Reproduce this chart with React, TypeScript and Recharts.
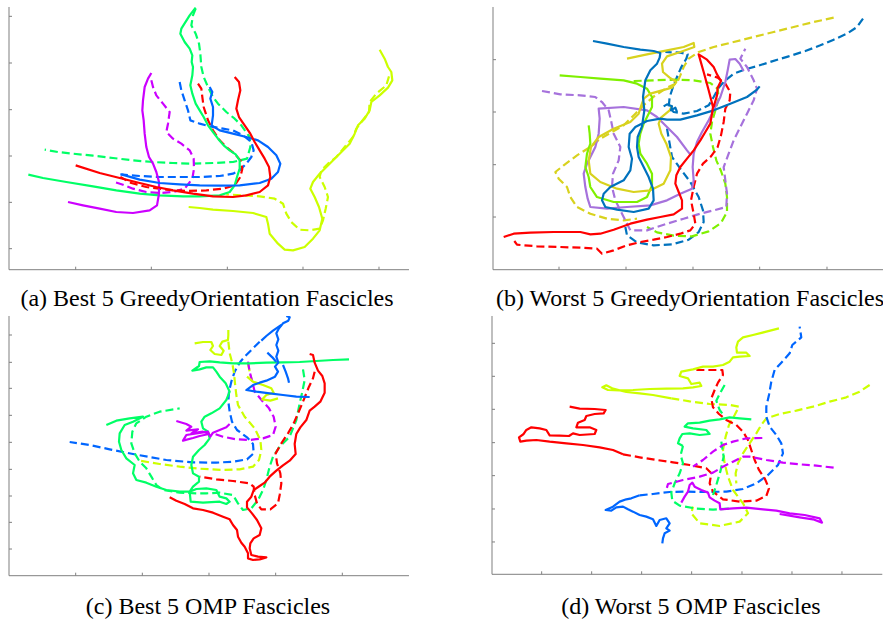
import React from 'react';
import { LineChart, Line, XAxis, YAxis } from 'recharts';

// Digitized trajectories. Units are the panel's own (unlabelled) coordinates;
// the y axis runs top-down (reversed).
type Pt = [number, number];

// ---- (a) Best 5 GreedyOrientation ----
const aGreenSolid: Pt[] = [[588,22],[570,45],[545,85],[542,100],[555,125],[570,145],[578,165],[576,185],[580,200],[578,225],[572,255],[578,280],[588,310],[600,330],[612,350],[625,375],[640,395],[655,415],[672,435],[690,450],[708,462],[720,480],[720,505],[712,530],[705,555],[690,575],[660,585],[600,588],[550,588],[480,585],[420,580],[350,570],[280,558],[200,545],[130,533],[86,523]];
const aGreenDash: Pt[] = [[588,25],[580,45],[575,75],[588,100],[598,130],[602,160],[605,200],[612,230],[625,260],[640,290],[655,310],[680,335],[705,355],[725,375],[750,410],[752,440],[742,475],[700,485],[640,488],[580,490],[520,488],[460,485],[400,480],[340,473],[280,466],[220,460],[175,455],[135,448]];
const aRedSolid: Pt[] = [[705,230],[718,245],[722,270],[715,300],[710,325],[718,350],[735,375],[752,400],[765,425],[780,450],[795,475],[808,500],[812,530],[805,555],[780,575],[740,585],[700,590],[640,588],[580,580],[520,570],[470,560],[420,548],[360,533],[300,518],[228,495]];
const aRedDash: Pt[] = [[595,250],[605,265],[608,290],[612,320],[625,360],[640,390],[660,420],[680,440],[705,460],[722,480],[728,505],[722,530],[705,555],[670,565],[620,570],[560,572],[500,568],[440,560],[395,548],[362,530]];
const aBlueSolid: Pt[] = [[630,260],[638,275],[632,295],[640,320],[640,345],[636,375],[660,390],[700,400],[740,410],[775,420],[805,440],[830,465],[842,490],[835,515],[815,535],[780,548],[720,555],[660,556],[600,555],[540,552],[480,548],[420,538],[365,522]];
const aBlueDash: Pt[] = [[540,245],[545,270],[555,300],[565,330],[572,360],[600,370],[630,378],[670,385],[700,390],[730,405],[755,425],[762,450],[755,470],[740,490],[720,510],[700,520],[660,527],[600,530],[540,530],[480,530],[420,527],[362,522]];
const aMagSolid: Pt[] = [[455,218],[445,235],[435,260],[430,300],[428,330],[432,360],[435,400],[440,440],[448,470],[460,490],[470,515],[478,545],[478,580],[472,615],[450,630],[400,638],[350,635],[300,625],[250,615],[205,605]];
const aMagDash: Pt[] = [[455,240],[460,260],[470,285],[490,310],[510,335],[505,370],[500,395],[520,415],[545,430],[570,450],[582,475],[583,505],[578,535],[555,565],[520,575],[480,578],[440,575],[400,565],[370,553],[338,543]];
const aYgSolid: Pt[] = [[1140,148],[1155,175],[1165,200],[1175,215],[1178,240],[1165,262],[1140,285],[1115,305],[1110,330],[1095,355],[1075,375],[1065,400],[1050,430],[1020,460],[990,490],[960,520],[940,545],[932,565],[945,590],[958,620],[968,655],[960,690],[940,715],[915,740],[880,750],[855,748],[835,730],[810,700],[805,670],[800,650],[760,638],[700,632],[640,628],[600,623],[567,620]];
const aYgDash: Pt[] = [[1168,228],[1160,255],[1130,280],[1110,305],[1108,335],[1085,365],[1070,385],[1060,410],[1035,440],[1010,470],[985,490],[965,510],[960,530],[975,560],[985,590],[978,625],[970,660],[960,685],[930,690],[900,688],[875,665],[860,640],[850,610],[825,595],[780,588],[730,585],[680,582]];

// ---- (b) Worst 5 GreedyOrientation ----
const bBlueSolid: Pt[] = [[338,122],[380,130],[430,140],[480,148],[520,152],[540,158],[538,172],[530,190],[510,210],[495,240],[488,290],[492,330],[485,378],[472,410],[470,440],[475,470],[490,500],[505,530],[518,565],[520,600],[505,625],[460,635],[410,628],[375,620],[365,600],[370,580],[390,560],[430,540],[450,510],[455,475],[445,440],[448,400],[465,380],[500,362],[540,355],[560,358],[600,358],[650,345],[700,330],[750,310],[800,290],[830,268],[838,258]];
const bBlueSquig: Pt[] = [[550,318],[560,312],[575,318],[572,330],[585,322],[590,335]];
const bBlueDash: Pt[] = [[1148,55],[1130,80],[1100,100],[1060,118],[1020,135],[975,152],[925,168],[875,183],[835,196],[795,207],[760,220],[735,240],[715,262],[700,290],[685,315],[650,332],[610,340],[580,335],[565,320],[568,290],[578,260],[590,230],[603,200],[618,175],[622,162],[600,157],[555,155]];
const bBlueDash2: Pt[] = [[560,385],[568,430],[575,470],[600,505],[630,545],[655,590],[668,630],[670,665],[655,695],[625,718],[575,732],[520,735],[470,726],[440,705],[435,680]];
const bYelSolid: Pt[] = [[440,175],[500,162],[560,150],[610,140],[640,128],[642,140],[600,155],[560,168],[545,190],[548,215],[568,232],[588,245],[575,262],[545,270],[510,280],[490,295],[482,318],[475,340],[450,365],[400,385],[355,410],[332,440],[325,480],[330,520],[360,545],[410,565],[460,575],[510,570],[550,550],[570,510],[572,470],[558,430],[543,400],[535,370],[542,352],[568,330],[575,315]];
const bYelDash: Pt[] = [[1060,52],[1000,65],[940,80],[880,95],[820,110],[760,125],[700,140],[655,155],[625,175],[610,200],[600,225],[590,248],[560,262],[525,285],[495,310],[465,340],[430,375],[395,395],[360,415],[330,440],[290,465],[250,495],[225,515],[235,535],[260,560],[270,590],[290,620],[330,640],[380,655],[430,660],[470,655]];
const bLimeSolid: Pt[] = [[238,225],[300,230],[360,235],[430,240],[470,250],[500,265],[515,290],[515,320],[505,340],[490,370],[480,400],[475,430],[480,460],[500,490],[515,520],[515,555],[500,590],[470,605],[400,605],[350,590],[330,560],[325,530],[315,500],[320,460],[330,430],[328,400],[325,375]];
const bLimeDash: Pt[] = [[460,242],[520,240],[580,238],[640,240],[690,248],[712,265],[715,295],[705,330],[695,365],[690,400],[698,440],[708,480],[722,512],[735,550],[740,590],[740,635],[722,668],[685,693],[635,708],[580,706],[530,696],[500,680]];
const bPurSolid: Pt[] = [[790,212],[778,190],[765,176],[748,178],[742,210],[735,245],[720,290],[700,330],[685,360],[665,395],[650,425],[640,460],[637,500],[640,540],[635,565],[600,580],[560,600],[510,615],[440,620],[380,625],[330,620],[322,595],[315,560],[310,520],[320,490],[345,440],[355,400],[358,355],[355,325],[430,320],[500,330],[530,350],[560,380],[590,410],[620,450],[632,465]];
const bPurDash: Pt[] = [[185,272],[240,282],[300,285],[345,290],[365,305],[385,330],[392,360],[400,400],[420,440],[415,480],[398,520],[395,560],[405,600],[425,640],[450,690],[500,690],[560,670],[610,655],[660,640],[700,630],[738,620],[740,580],[735,540],[730,500],[745,460],[760,420],[780,380],[800,340],[820,300],[830,265],[820,240],[800,200],[780,175],[795,145]];
const bRedSolid: Pt[] = [[70,710],[100,700],[150,697],[220,695],[300,695],[330,702],[360,700],[400,688],[450,670],[500,658],[540,650],[580,642],[605,625],[605,600],[595,575],[585,550],[588,525],[600,500],[620,475],[640,450],[660,420],[675,395],[690,370],[695,340],[698,320],[685,270],[670,215],[655,162],[680,178],[700,200],[710,222],[722,242],[712,262],[710,285],[700,320]];
const bRedDash: Pt[] = [[102,722],[110,733],[170,738],[240,740],[300,742],[350,745],[365,760],[400,750],[440,735],[480,725],[520,718],[560,710],[600,700],[630,690],[645,670],[640,640],[632,600],[640,560],[650,520],[668,490],[692,468],[712,440],[722,405],[730,365],[735,325],[748,300],[750,275],[735,250],[712,232],[680,222]];

// ---- (c) Best 5 OMP ----
const cBlueSolid: Pt[] = [[860,18],[870,22],[866,32],[850,40],[838,55],[830,70],[836,88],[830,105],[836,122],[830,140],[836,158],[826,170],[835,185],[826,200],[800,212],[780,218],[760,225],[740,240],[770,245],[810,250],[850,255],[890,260],[930,261]];
const cBlueSolid2: Pt[] = [[845,45],[820,62],[800,78],[785,92]];
const cBlueBits1: Pt[] = [[803,128],[818,142],[830,156]];
const cBlueBits2: Pt[] = [[850,165],[858,185],[865,205],[868,218]];
const cBlueDash: Pt[] = [[780,95],[760,115],[740,135],[722,155],[705,185],[695,215],[688,245],[686,275],[690,305],[697,335],[712,360],[742,382],[760,402],[762,430],[742,448],[700,455],[650,458],[580,457],[500,450],[400,432],[330,418],[270,405],[210,396]];
const cYgSolid: Pt[] = [[585,100],[610,96],[635,96],[640,108],[632,120],[645,132],[665,135],[672,122],[660,108],[668,95],[685,90],[686,75],[686,60]];
const cYgSolid2: Pt[] = [[742,200],[760,215],[790,225],[815,235],[822,248],[800,255],[788,268],[812,272],[835,265]];
const cYgDash: Pt[] = [[686,95],[690,130],[698,160],[703,190],[706,220],[710,255],[715,285],[735,320],[765,355],[782,390],[785,420],[778,450],[760,470],[720,478],[670,480],[600,476],[540,470],[480,462],[420,452]];
const cYgDash2: Pt[] = [[745,160],[750,185],[756,210]];
const cGreenSolid: Pt[] = [[1048,148],[1000,150],[950,153],[900,156],[850,157],[800,158],[750,160],[700,160],[660,157],[630,154],[600,156],[598,168],[578,182],[600,178],[620,172],[640,172],[650,185],[660,200],[678,220],[690,245],[680,270],[660,295],[635,310],[615,320],[605,335],[610,355],[625,365],[630,385],[615,405],[598,420],[580,440],[575,465],[580,490],[598,500],[598,515],[580,530],[570,545],[573,575],[610,578],[660,575],[680,582],[690,575],[680,565],[660,560],[650,540],[620,535],[590,537],[570,545],[540,545],[500,540],[470,530],[440,518],[410,510],[400,490],[405,465],[380,445],[365,420],[358,395],[360,370],[375,345],[400,335],[430,320],[390,325],[350,332],[320,345]];
const cGreenDash: Pt[] = [[910,178],[915,210],[908,245],[900,280],[890,330],[870,380],[840,410],[820,440],[810,470],[800,510],[790,540],[775,570],[755,595],[730,600],[715,580],[700,555],[660,548],[620,550],[590,550],[540,548],[490,540],[470,525],[455,500],[440,475],[420,455],[405,430],[395,400],[398,365],[410,340],[440,320],[480,305],[540,295]];
const cRedSolid: Pt[] = [[510,562],[530,572],[555,582],[580,595],[610,600],[640,608],[670,620],[690,628],[700,645],[712,660],[715,680],[725,698],[735,710],[745,730],[745,745],[760,750],[780,748],[800,742],[775,740],[755,735],[750,715],[752,700],[762,685],[780,675],[785,655],[772,630],[757,610],[742,592],[742,575],[755,560],[762,540],[780,528],[795,518],[810,500],[830,482],[850,466],[870,452],[888,432],[885,402],[890,372],[902,352],[920,330],[930,302],[945,290],[962,275],[975,248],[975,220],[968,198],[955,182],[945,158],[940,135],[930,132]];
const cRedDash: Pt[] = [[945,185],[940,205],[928,230],[918,255],[908,280],[895,310],[882,340],[865,370],[845,400],[828,430],[832,460],[842,490],[845,520],[840,555],[835,580],[812,598],[785,598],[772,580],[765,555],[762,530],[750,520],[700,513],[650,508],[600,500]];
const cMagSolid: Pt[] = [[530,333],[560,342],[575,350],[560,362],[595,358],[575,370],[610,365],[628,372],[600,378],[580,384],[550,392],[560,375],[590,370],[625,365],[632,380],[640,368],[660,360],[680,352],[690,342]];
const cMagDash: Pt[] = [[745,155],[750,185],[758,215],[765,245],[790,275],[808,295],[822,320],[828,350],[820,375],[790,385],[750,390],[710,388],[670,380],[640,370]];

// ---- (d) Worst 5 OMP ----
const dYgSolid: Pt[] = [[898,55],[860,65],[820,75],[790,82],[775,95],[770,112],[772,128],[800,128],[810,138],[780,140],[760,142],[750,155],[730,165],[700,170],[670,170],[640,178],[605,185],[600,198],[625,205],[635,222],[660,218],[665,228],[640,232],[610,235],[560,236],[510,237],[460,240],[420,241],[385,240],[368,232],[380,226],[400,236],[440,246],[480,250],[520,255],[575,265]];
const dYgDash: Pt[] = [[575,265],[630,274],[690,282],[750,285],[778,290],[765,315],[748,345],[738,380],[730,420],[735,460],[745,500],[760,540],[790,580],[805,610],[780,635],[720,648],[660,640],[635,610],[640,590]];
const dYgDash2: Pt[] = [[1170,225],[1140,245],[1100,262],[1050,275],[1000,290],[950,302],[900,312],[860,325],[845,345],[830,370],[810,400],[790,430],[775,460],[768,490],[770,520]];
const dRedSolid: Pt[] = [[270,290],[300,296],[345,297],[378,300],[372,310],[345,312],[320,318],[315,330],[295,338],[290,352],[330,352],[350,360],[345,372],[300,375],[280,370],[268,378],[240,377],[210,376],[200,360],[180,355],[155,352],[140,360],[132,372],[118,382],[122,395],[140,392],[170,390],[210,395],[260,400],[310,405],[360,412],[400,420],[430,433]];
const dRedDash: Pt[] = [[430,433],[480,442],[530,450],[580,457],[630,465],[680,475],[695,490],[690,520],[700,545],[730,568],[780,575],[830,572],[860,558],[868,535],[855,505],[838,480],[825,450],[815,420],[805,390],[790,365],[770,345],[740,330],[718,312],[700,292],[695,265],[705,240],[715,218],[730,195],[728,180],[690,180],[640,180]];
const dGreenSolid: Pt[] = [[815,328],[780,325],[750,322],[720,328],[690,332],[660,338],[625,340],[615,350],[640,355],[680,360],[690,372],[660,375],[630,370],[608,372],[600,385],[595,400],[610,408]];
const dGreenDash: Pt[] = [[610,408],[603,435],[610,460],[600,490],[585,520],[575,548],[578,572],[600,587],[650,596],[700,599],[750,596]];
const dGreenDash2: Pt[] = [[735,225],[722,248],[710,272],[720,300],[735,320]];
const dGreenDash3: Pt[] = [[725,395],[732,440],[722,485],[710,525],[700,555]];
const dBlueSolid: Pt[] = [[480,556],[455,565],[440,568],[420,575],[400,590],[378,600],[395,602],[410,592],[430,590],[445,598],[460,605],[480,615],[500,620],[520,628],[530,648],[540,630],[560,625],[570,640],[560,655],[570,662],[555,670],[550,685],[548,700]];
const dBlueDash: Pt[] = [[480,556],[520,552],[570,546],[620,545],[680,546],[740,545],[790,537],[830,520],[865,495],[895,465],[910,430],[905,400],[890,375],[870,350],[860,320],[860,290],[868,255],[875,215],[885,180],[905,158],[930,130],[938,105],[965,82],[960,50]];
const dMagSolid: Pt[] = [[605,578],[615,560],[625,545],[630,525],[638,518],[645,530],[665,540],[685,548],[690,562],[705,572],[720,580],[722,598],[760,595],[800,593],[850,598],[890,602],[930,610],[975,615],[1020,625],[1027,638],[1000,628],[960,622],[900,612]];
const dMagDash: Pt[] = [[1062,473],[1010,467],[960,463],[910,458],[860,450],[810,440],[790,440],[760,455],[730,470],[700,488],[660,500],[610,510],[565,522],[560,540]];
const dMagDash2: Pt[] = [[848,384],[800,385],[760,395],[730,405],[700,425],[670,450],[640,470]];

// axis ticks (no labels in the figure)
const aXTicks = [228, 455, 683, 910, 1138];
const aYTicks = [48, 188, 328, 467, 606, 745];
const bXTicks = [236, 437, 638, 838, 1040];
const bYTicks = [178, 335, 493, 650];
const cXTicks = [228, 428, 628, 828, 1028];
const cYTicks = [75, 157, 235, 316, 397, 478, 558, 637, 717];
const dXTicks = [186, 336, 486, 636, 787, 937, 1087];
const dYTicks = [100, 199, 298, 398, 497, 597, 696];

const captions = [
  '(a) Best 5 GreedyOrientation Fascicles',
  '(b) Worst 5 GreedyOrientation Fascicles',
  '(c) Best 5 OMP Fascicles',
  '(d) Worst 5 OMP Fascicles',
];

// hsv palette (a, c, d)
const RED = '#ff0000';
const YG = '#ccff00';
const GREEN = '#00ff66';
const BLUE = '#0066ff';
const MAG = '#cc00ff';
// palette of (b)
const B_BLUE = '#0072bd';
const B_YEL = '#d8d21e';
const B_LIME = '#7ff000';
const B_PUR = '#a672dc';

const AXIS = '#808080';
const PAD = 6;
const AX = 1; // axis band thickness

interface Curve { pts: Pt[]; color: string; dashed?: boolean }
interface Box { left: number; top: number; width: number; height: number }

function Panel({ box, xDomain, yDomain, xTicks, yTicks, curves }: {
  box: Box; xDomain: [number, number]; yDomain: [number, number];
  xTicks: number[]; yTicks: number[]; curves: Curve[];
}) {
  return (
    <div style={{ position: 'absolute', left: box.left - PAD - AX, top: box.top - PAD }}>
      <LineChart width={box.width + 2 * PAD + AX} height={box.height + 2 * PAD + AX}
        margin={{ top: PAD, right: PAD, bottom: PAD, left: PAD }}>
        <XAxis type="number" dataKey="x" domain={xDomain} allowDataOverflow ticks={xTicks}
          interval={0} tickFormatter={() => ''} height={AX} tickSize={-3} tickMargin={0}
          stroke={AXIS} axisLine={{ stroke: AXIS }} tickLine={{ stroke: AXIS }} />
        <YAxis type="number" dataKey="y" domain={yDomain} allowDataOverflow reversed ticks={yTicks}
          interval={0} tickFormatter={() => ''} width={AX} tickSize={-3} tickMargin={0}
          stroke={AXIS} axisLine={{ stroke: AXIS }} tickLine={{ stroke: AXIS }} />
        {curves.map((c, i) => (
          <Line key={i} data={c.pts.map(([x, y]) => ({ x, y }))} dataKey="y" type="linear"
            stroke={c.color} strokeWidth={2.2} strokeDasharray={c.dashed ? '8 4' : undefined}
            strokeLinejoin="round" dot={false} activeDot={false} isAnimationActive={false} />
        ))}
      </LineChart>
    </div>
  );
}

const captionStyle: React.CSSProperties = {
  position: 'absolute', width: 440, textAlign: 'center', whiteSpace: 'nowrap',
  fontFamily: '"Liberation Serif", "Times New Roman", serif', fontSize: 24, lineHeight: '28px', color: '#000',
};

export default function App() {
  const a: Curve[] = [
    { pts: aYgDash, color: YG, dashed: true }, { pts: aYgSolid, color: YG },
    { pts: aGreenDash, color: GREEN, dashed: true }, { pts: aMagDash, color: MAG, dashed: true },
    { pts: aBlueDash, color: BLUE, dashed: true }, { pts: aRedDash, color: RED, dashed: true },
    { pts: aGreenSolid, color: GREEN }, { pts: aMagSolid, color: MAG },
    { pts: aBlueSolid, color: BLUE }, { pts: aRedSolid, color: RED },
  ];
  const b: Curve[] = [
    { pts: bYelDash, color: B_YEL, dashed: true }, { pts: bBlueDash, color: B_BLUE, dashed: true },
    { pts: bBlueDash2, color: B_BLUE, dashed: true }, { pts: bLimeDash, color: B_LIME, dashed: true },
    { pts: bPurDash, color: B_PUR, dashed: true }, { pts: bRedDash, color: RED, dashed: true },
    { pts: bPurSolid, color: B_PUR }, { pts: bLimeSolid, color: B_LIME }, { pts: bYelSolid, color: B_YEL },
    { pts: bBlueSolid, color: B_BLUE }, { pts: bBlueSquig, color: B_BLUE }, { pts: bRedSolid, color: RED },
  ];
  const c: Curve[] = [
    { pts: cBlueDash, color: BLUE, dashed: true }, { pts: cYgDash, color: YG, dashed: true },
    { pts: cYgDash2, color: YG, dashed: true }, { pts: cGreenDash, color: GREEN, dashed: true },
    { pts: cRedDash, color: RED, dashed: true }, { pts: cMagDash, color: MAG, dashed: true },
    { pts: cYgSolid, color: YG }, { pts: cYgSolid2, color: YG },
    { pts: cGreenSolid, color: GREEN }, { pts: cMagSolid, color: MAG },
    { pts: cBlueSolid, color: BLUE }, { pts: cBlueSolid2, color: BLUE },
    { pts: cBlueBits1, color: BLUE }, { pts: cBlueBits2, color: BLUE }, { pts: cRedSolid, color: RED },
  ];
  const d: Curve[] = [
    { pts: dYgDash, color: YG, dashed: true }, { pts: dYgDash2, color: YG, dashed: true },
    { pts: dBlueDash, color: BLUE, dashed: true }, { pts: dRedDash, color: RED, dashed: true },
    { pts: dGreenDash, color: GREEN, dashed: true }, { pts: dGreenDash2, color: GREEN, dashed: true },
    { pts: dGreenDash3, color: GREEN, dashed: true }, { pts: dMagDash, color: MAG, dashed: true },
    { pts: dMagDash2, color: MAG, dashed: true },
    { pts: dYgSolid, color: YG }, { pts: dRedSolid, color: RED }, { pts: dGreenSolid, color: GREEN },
    { pts: dBlueSolid, color: BLUE }, { pts: dMagSolid, color: MAG },
  ];

  return (
    <div style={{ position: 'absolute', left: 0, top: 0, width: 883, height: 620, background: '#fff', overflow: 'hidden' }}>
      <Panel box={{ left: 9.3, top: 6.7, width: 400, height: 262.7 }} xDomain={[28, 1228]} yDomain={[20, 808]}
        xTicks={aXTicks} yTicks={aYTicks} curves={a} />
      <Panel box={{ left: 492.7, top: 6.7, width: 390, height: 262.7 }} xDomain={[38, 1208]} yDomain={[20, 808]}
        xTicks={bXTicks} yTicks={bYTicks} curves={b} />
      <Panel box={{ left: 9.3, top: 316, width: 400, height: 259.7 }} xDomain={[28, 1228]} yDomain={[18, 797]}
        xTicks={cXTicks} yTicks={cYTicks} curves={c} />
      <Panel box={{ left: 492.3, top: 316, width: 390.3, height: 258.3 }} xDomain={[37, 1208]} yDomain={[18, 793]}
        xTicks={dXTicks} yTicks={dYTicks} curves={d} />
      <div style={{ ...captionStyle, left: 207 - 220, top: 284 }}>{captions[0]}</div>
      <div style={{ ...captionStyle, left: 690 - 220, top: 284 }}>{captions[1]}</div>
      <div style={{ ...captionStyle, left: 208 - 220, top: 592 }}>{captions[2]}</div>
      <div style={{ ...captionStyle, left: 691 - 220, top: 592 }}>{captions[3]}</div>
    </div>
  );
}
